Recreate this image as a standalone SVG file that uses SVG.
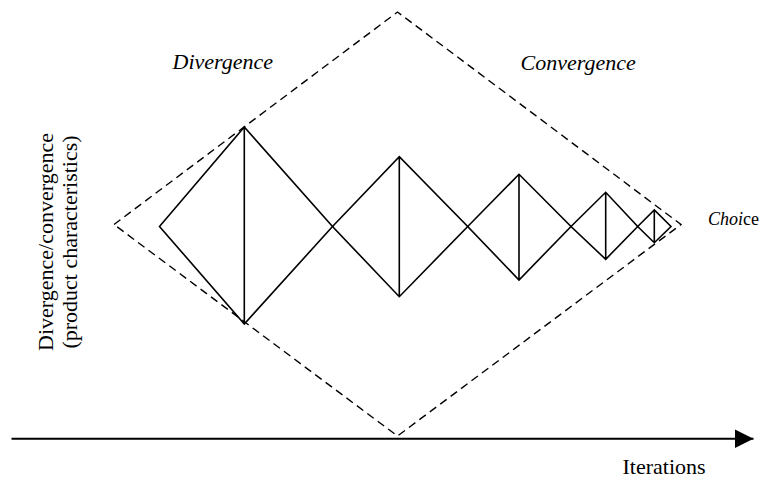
<svg xmlns="http://www.w3.org/2000/svg" width="760" height="478" viewBox="0 0 760 478">
<style>
.dash{fill:none;stroke:#000;stroke-width:1.4;stroke-dasharray:8 5}
.sol{fill:none;stroke:#000;stroke-width:1.6;stroke-linejoin:miter}
.t{font-family:"Liberation Serif","Times New Roman",serif;font-size:22px;fill:#000}
.it{font-style:italic}
</style>
<defs>
<marker id="arr" markerUnits="userSpaceOnUse" markerWidth="20" markerHeight="20" refX="19" refY="10" orient="auto">
<path d="M0,0.5 L19,10 L0,19.5 Z" fill="#000"/>
</marker>
</defs>
<rect width="760" height="478" fill="#fff"/>
<g id="envelope">
<path class="dash" d="M114,224.5 L397.5,12 L681,224.5 L397.5,436 Z"/>
</g>
<g id="d1"><path class="sol" d="M159.5,226.5 L244.3,127 L332.5,226.5 L244.3,324 Z M244.3,127 V324"/></g>
<g id="d2"><path class="sol" d="M332.5,226.5 L399.3,156.7 L467.7,226.5 L399.3,296.7 Z M399.3,156.7 V296.7"/></g>
<g id="d3"><path class="sol" d="M467.7,226.5 L519,174.3 L571,226.5 L519,280 Z M519,174.3 V280"/></g>
<g id="d4"><path class="sol" d="M571,226.5 L605.7,192.3 L637.7,226.5 L605.7,259.3 Z M605.7,192.3 V259.3"/></g>
<g id="d5"><path class="sol" d="M637.7,226.5 L654.3,210 L671,226.5 L654.3,242.7 Z M654.3,210 V242.7"/></g>
<g id="connectors">
<line x1="11.5" y1="438.8" x2="753.5" y2="438.8" stroke="#000" stroke-width="2" marker-end="url(#arr)"/>
</g>
<g id="labels">
<text class="t it" x="172.5" y="68.5">Divergence</text>
<text class="t it" x="520.5" y="70">Convergence</text>
<text class="t" x="708" y="224.5" style="font-size:18px"><tspan class="it">Choi</tspan>ce</text>
<text class="t" x="622.5" y="473.5">Iterations</text>
<g transform="translate(0,242) rotate(-90)">
<text class="t" x="0" y="53" text-anchor="middle">Divergence/convergence</text>
<text class="t" x="0" y="77" text-anchor="middle">(product characteristics)</text>
</g>
</g>
</svg>
